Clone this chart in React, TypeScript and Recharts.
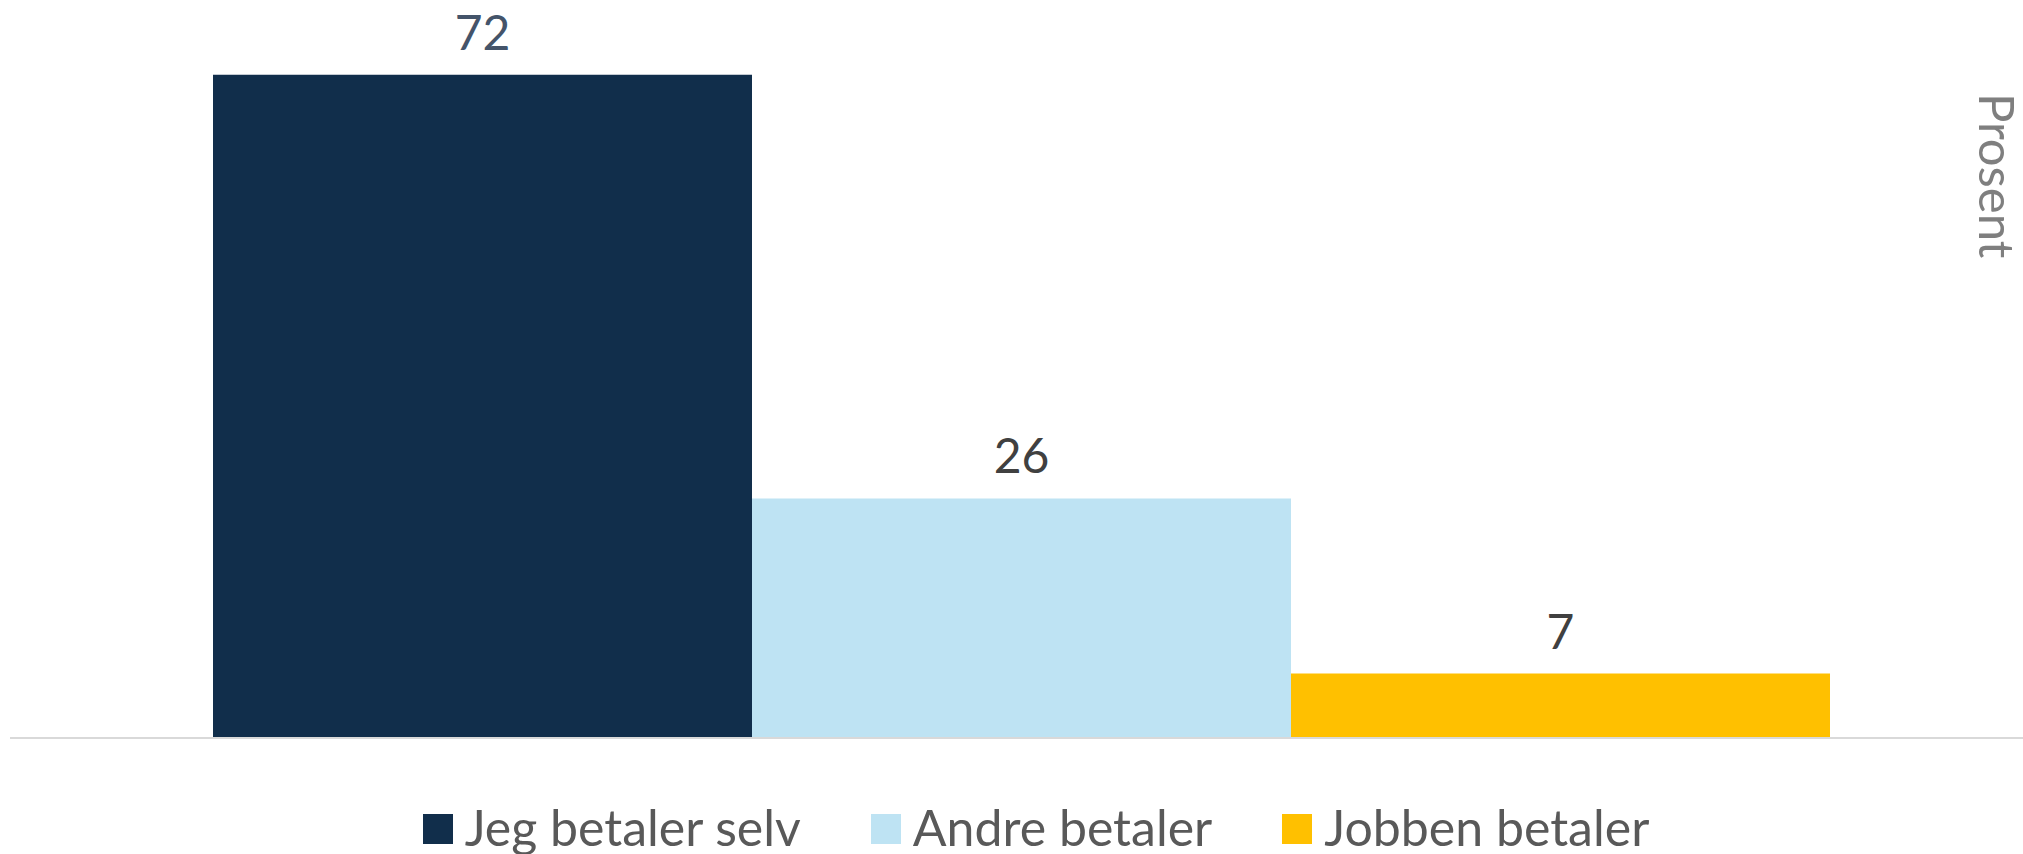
// App.tsx
import { BarChart, Bar, XAxis, YAxis, Legend, LabelList } from "recharts";

const categories = [""];
const seriesNames = ["Jeg betaler selv", "Andre betaler", "Jobben betaler"];
const seriesValues = [72, 26, 7];

const barColors = ["#112E4B", "#BEE3F3", "#FFC000"];
const labelColors = ["#44546A", "#404040", "#404040"];
const FONT = "Lato, 'Open Sans', sans-serif";

const data = categories.map((name) => {
  const row: Record<string, string | number> = { name };
  seriesNames.forEach((s, i) => {
    row["s" + i] = seriesValues[i];
  });
  return row;
});

function LegendBox() {
  return (
    <div
      style={{
        display: "flex",
        justifyContent: "center",
        alignItems: "center",
        height: 70,
        paddingTop: 16,
        paddingLeft: 39,
        boxSizing: "border-box",
        fontFamily: FONT,
        fontSize: 50,
        lineHeight: 1,
        color: "#595959",
      }}
    >
      {seriesNames.map((s, i) => (
        <div
          key={s}
          style={{
            display: "flex",
            alignItems: "center",
            marginRight: i < seriesNames.length - 1 ? 70 : 0,
          }}
        >
          <span
            style={{
              width: 30,
              height: 30,
              background: barColors[i],
              marginRight: 12,
              marginTop: 4,
              display: "inline-block",
            }}
          />
          <span>{s}</span>
        </div>
      ))}
    </div>
  );
}

export default function App() {
  return (
    <div
      style={{
        position: "absolute",
        left: 0,
        top: 0,
        width: 2023,
        height: 854,
        background: "#fff",
      }}
    >
      <BarChart
        width={2023}
        height={854}
        data={data}
        margin={{ top: 1, right: 0, bottom: 0, left: 10 }}
        barGap={0}
        barCategoryGap={192}
      >
        <XAxis
          dataKey="name"
          tick={false}
          tickLine={false}
          axisLine={{ stroke: "#D9D9D9", strokeWidth: 2 }}
          height={46}
          padding={{ left: 11, right: 0 }}
        />
        <YAxis hide domain={[0, 80]} />
        <Legend verticalAlign="bottom" content={() => <LegendBox />} />
        {seriesNames.map((s, i) => (
          <Bar
            key={s}
            dataKey={"s" + i}
            name={s}
            fill={barColors[i]}
            isAnimationActive={false}
          >
            <LabelList
              dataKey={"s" + i}
              position="top"
              offset={25}
              fill={labelColors[i]}
              fontSize={48}
              fontFamily={FONT}
            />
          </Bar>
        ))}
      </BarChart>
      <div
        style={{
          position: "absolute",
          left: 1980,
          top: 93,
          writingMode: "vertical-rl",
          fontFamily: FONT,
          fontSize: 49,
          lineHeight: "36px",
          color: "#7F7F7F",
        }}
      >
        Prosent
      </div>
    </div>
  );
}
